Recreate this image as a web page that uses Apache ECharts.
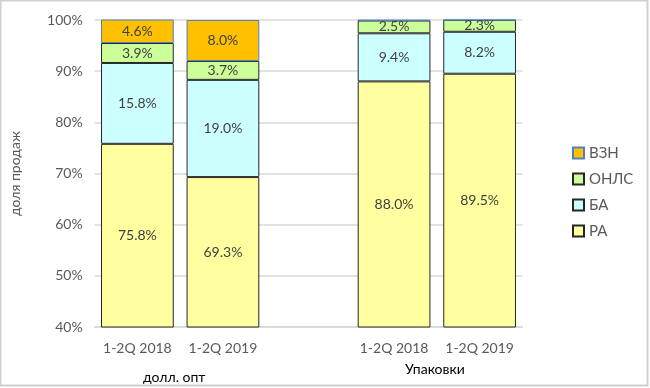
<!DOCTYPE html>
<html><head><meta charset="utf-8">
<script src="https://cdn.jsdelivr.net/npm/echarts@6/dist/echarts.min.js"></script>
<style>html,body{margin:0;padding:0;background:#fff}#c{width:650px;height:388px}</style>
</head><body><div id="c"></div>
<script>
const categories = ['1-2Q 2018', '1-2Q 2019', '', '1-2Q 2018', '1-2Q 2019'];
const groupLabels = ['долл. опт', 'Упаковки'];
const yTicks = [40, 50, 60, 70, 80, 90, 100];
const ra   = [75.8, 69.3, null, 88.0, 89.5];
const ba   = [15.8, 19.0, null, 9.4, 8.2];
const onls = [3.9, 3.7, null, 2.5, 2.3];
const vzn  = [4.6, 8.0, null, 0.1, 0.0];

const font = 'Lato, "Open Sans", sans-serif';
const labelFmt = p => (p.value == null || p.value < 1) ? '' : p.value.toFixed(1) + '%';
function mk(name, data, color, border) {
  return {
    name, type: 'bar', stack: 'a', data, barCategoryGap: '15%',
    itemStyle: { color, borderColor: border, borderWidth: 1 },
    label: { show: true, position: 'inside', formatter: labelFmt, color: '#404040', fontSize: 14, fontFamily: font },
    emphasis: { disabled: true }
  };
}
const chart = echarts.init(document.getElementById('c'));
chart.setOption({
  animation: false,
  grid: { left: 94.6, right: 127.6, top: 20, bottom: 61 },
  xAxis: {
    type: 'category', data: categories,
    axisLine: { lineStyle: { color: '#D9D9D9', width: 1.5 } },
    axisTick: { show: false },
    axisLabel: { color: '#595959', fontSize: 14, fontFamily: font, margin: 14, interval: 0 }
  },
  yAxis: {
    type: 'value', min: yTicks[0], max: yTicks[yTicks.length - 1], interval: 10,
    name: 'доля продаж', nameLocation: 'middle', nameGap: 72, nameRotate: 90,
    nameTextStyle: { color: '#595959', fontSize: 14, fontFamily: font },
    axisLine: { show: false }, axisTick: { show: false },
    axisLabel: { color: '#595959', fontSize: 14, fontFamily: font, formatter: v => v + '%', margin: 12 },
    splitLine: { lineStyle: { color: '#D9D9D9', width: 1.5 } }
  },
  legend: {
    orient: 'vertical', left: 572, top: 145.5, padding: 0, itemWidth: 11, itemHeight: 11, itemGap: 11,
    icon: 'rect',
    data: ['ВЗН', 'ОНЛС', 'БА', 'РА'],
    textStyle: { color: '#595959', fontSize: 15, lineHeight: 15, fontFamily: font },
    selectedMode: false
  },
  graphic: [
    { type: 'text', left: 143, top: 370, style: { text: groupLabels[0], fill: '#000', font: '14px ' + font } },
    { type: 'text', left: 405, top: 362, style: { text: groupLabels[1], fill: '#000', font: '14px ' + font } },
    { type: 'rect', shape: { x: 0.5, y: 0.5, width: 647, height: 385 }, style: { fill: 'none', stroke: '#D0D0D0', lineWidth: 2 }, silent: true }
  ],
  series: [
    mk('РА', ra, '#FFFF9F', '#262626'),
    mk('БА', ba, '#CCFFFF', '#262626'),
    mk('ОНЛС', onls, '#CCFF99', '#262626'),
    mk('ВЗН', vzn, '#FFC000', '#4F81BD')
  ]
});
</script></body></html>
